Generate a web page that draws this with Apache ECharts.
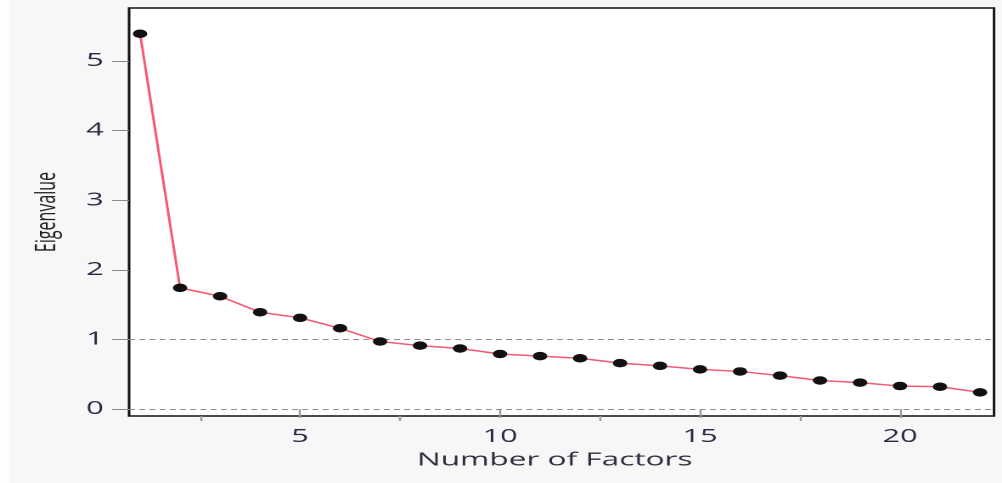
<!DOCTYPE html>
<html>
<head>
<meta charset="utf-8">
<script src="https://cdn.jsdelivr.net/npm/echarts@6/dist/echarts.min.js"></script>
<style>
  html, body { margin: 0; padding: 0; width: 1002px; height: 483px; overflow: hidden;
    background: linear-gradient(to right, #fdfdfd 0px, #fdfdfd 10px, #f7f7f7 10px, #f7f7f7 100%); }
  #chart { position: absolute; left: 0; top: 0; width: 590px; height: 483px;
    transform: scaleX(1.69831); transform-origin: 0 0; }
</style>
</head>
<body>
<div id="chart"></div>
<script>
// Data
const factors = [1, 2, 3, 4, 5, 6, 7, 8, 9, 10, 11, 12, 13, 14, 15, 16, 17, 18, 19, 20, 21, 22];
const eigenvalues = [5.39, 1.74, 1.62, 1.39, 1.31, 1.16, 0.97, 0.91, 0.87, 0.79, 0.76, 0.73,
                     0.66, 0.62, 0.57, 0.54, 0.48, 0.41, 0.38, 0.33, 0.32, 0.24];
const xTickValues = [5, 10, 15, 20];
const xMinorTickValues = [2.5, 7.5, 12.5, 17.5];
const yTickValues = [0, 1, 2, 3, 4, 5];
const referenceLines = [0, 1];

const chart = echarts.init(document.getElementById('chart'), null, { renderer: 'canvas', devicePixelRatio: 2 });
const tickFont = { fontFamily: 'Open Sans', fontSize: 18, color: '#262a40' };

chart.setOption({
  animation: false,
  backgroundColor: 'transparent',
  grid: {
    left: 76, right: 4.7, top: 8, bottom: 67,
    show: true, backgroundColor: '#ffffff', borderColor: '#111111', borderWidth: 1.5
  },
  xAxis: [
    {
      type: 'value', min: 0.725, max: 22.35,
      name: 'Number of Factors', nameLocation: 'middle', nameGap: 34,
      nameTextStyle: { fontFamily: 'Open Sans', fontSize: 18.6, color: '#2e2e40', padding: [0, 8, 0, 0] },
      axisLine: { show: false },
      splitLine: { show: false },
      axisTick: { show: true, length: 9, customValues: xTickValues, lineStyle: { color: '#9a9a9a', width: 1.2 } },
      axisLabel: Object.assign({ customValues: xTickValues, margin: 12 }, tickFont)
    },
    {
      type: 'value', min: 0.725, max: 22.35, position: 'bottom',
      axisLine: { show: false },
      splitLine: { show: false },
      axisLabel: { show: false },
      axisTick: { show: true, length: 5, customValues: xMinorTickValues, lineStyle: { color: '#9a9a9a', width: 1.2 } }
    }
  ],
  yAxis: {
    type: 'value', min: -0.1, max: 5.76,
    name: 'Eigenvalue', nameLocation: 'middle', nameGap: 40,
    nameTextStyle: { fontFamily: 'Open Sans', fontSize: 16, color: '#1e1e1e' },
    axisLine: { show: false },
    splitLine: { show: false },
    axisTick: { show: true, length: 10, customValues: yTickValues, lineStyle: { color: '#8a8a8a', width: 1 } },
    axisLabel: Object.assign({ customValues: yTickValues, margin: 15 }, tickFont)
  },
  series: [{
    type: 'line',
    data: factors.map((f, i) => [f, eigenvalues[i]]),
    symbol: 'circle', symbolSize: 8.5,
    itemStyle: { color: '#111111' },
    lineStyle: { color: '#f45a70', width: 1.5 },
    z: 5,
    markLine: {
      silent: true, symbol: 'none', label: { show: false },
      lineStyle: { color: '#8f8f8f', type: [3.5, 2.5], width: 1 },
      data: referenceLines.map(v => ({ yAxis: v }))
    }
  }]
});
</script>
</body>
</html>
